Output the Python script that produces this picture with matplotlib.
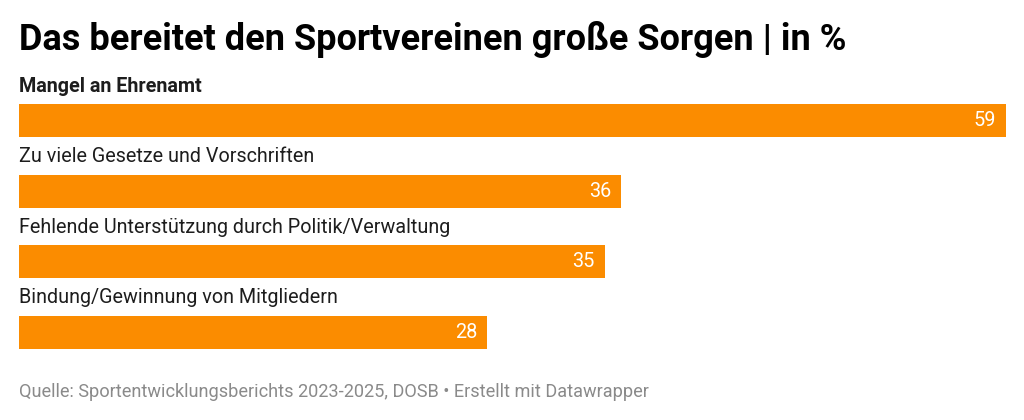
import matplotlib
matplotlib.use("Agg")
import matplotlib.pyplot as plt

categories = ["Mangel an Ehrenamt", "Zu viele Gesetze und Vorschriften",
              "Fehlende Unterstützung durch Politik/Verwaltung",
              "Bindung/Gewinnung von Mitgliedern"]
values = [59, 36, 35, 28]
title = "Das bereitet den Sportvereinen große Sorgen | in %"
source = "Quelle: Sportentwicklungsberichts 2023-2025, DOSB • Erstellt mit Datawrapper"

plt.rcParams['font.family'] = ['Roboto', 'DejaVu Sans']

W, H = 1024, 420
fig = plt.figure(figsize=(W/100, H/100), dpi=100)
fig.patch.set_facecolor('white')

h = 0.467
left, right = 19, 1006
top, bottom = 104, 349
ax = fig.add_axes([left/W, 1 - bottom/H, (right-left)/W, (bottom-top)/H])
ax.set_xlim(0, 59)
ax.set_ylim(len(values) - 1 + h/2, -h/2)
ax.axis('off')

color = '#fb8c00'
ys = list(range(len(values)))
ax.barh(ys, values, height=h, color=color, edgecolor='none')

unit_px = (bottom - top) / (len(values) - 1 + h)
for i, (c, v) in enumerate(zip(categories, values)):
    ax.text(0, i - h/2 - 18/unit_px, c, ha='left', va='center', fontsize=14.2,
            fontweight='bold' if i == 0 else 'normal', color='#1d1d1d')
    ax.annotate(str(v), (v, i), xytext=(-10, 0), textcoords='offset pixels',
                ha='right', va='center', fontsize=14.3, color='white')

fig.text(19/W, 1 - 40/H, title, ha='left', va='center', fontsize=26,
         fontweight='bold', color='#000000')
fig.text(19/W, 1 - 392/H, source, ha='left', va='center', fontsize=13.1,
         color='#8a8a8a')

fig.savefig('out.png', dpi=100, facecolor='white')
